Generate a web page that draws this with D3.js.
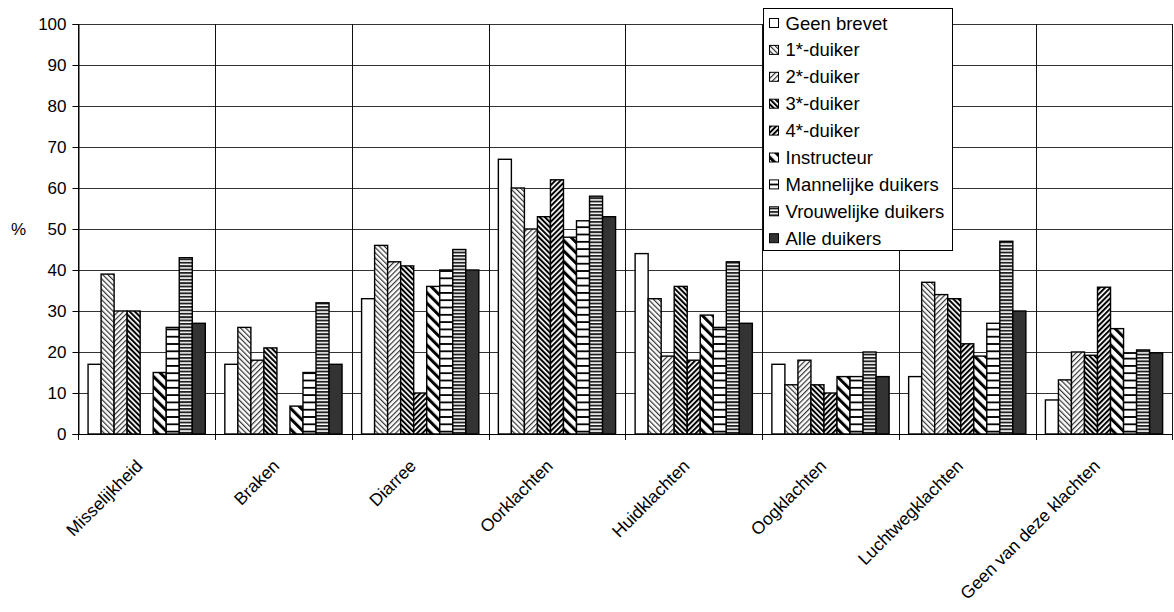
<!DOCTYPE html>
<html>
<head>
<meta charset="utf-8">
<script src="https://cdn.jsdelivr.net/npm/d3@7/dist/d3.min.js"></script>
<style>
  html, body { margin: 0; padding: 0; background: #fff; }
  svg { display: block; font-family: "Liberation Sans", Arial, sans-serif; }
</style>
</head>
<body>
<svg id="chart" width="1174" height="612"></svg>
<script>
// Complaint categories (x axis)
const categories = ["Misselijkheid", "Braken", "Diarree", "Oorklachten", "Huidklachten",
                    "Oogklachten", "Luchtwegklachten", "Geen van deze klachten"];

// Diver groups (legend order)
const seriesNames = ["Geen brevet", "1*-duiker", "2*-duiker", "3*-duiker", "4*-duiker",
                     "Instructeur", "Mannelijke duikers", "Vrouwelijke duikers", "Alle duikers"];

// Percentages per group, one value per category (null = no bar)
const geenBrevet  = [17, 17, 33, 67, 44, 17, 14, 8.3];
const ster1       = [39, 26, 46, 60, 33, 12, 37, 13.2];
const ster2       = [30, 18, 42, 50, 19, 18, 34, 20];
const ster3       = [30, 21, 41, 53, 36, 12, 33, 19.2];
const ster4       = [null, null, 10, 62, 18, 10, 22, 35.8];
const instructeur = [15, 6.8, 36, 48, 29, 14, 19, 25.7];
const mannelijk   = [26, 15, 40, 52, 26, 14, 27, 19.7];
const vrouwelijk  = [43, 32, 45, 58, 42, 20, 47, 20.5];
const alle        = [27, 17, 40, 53, 27, 14, 30, 19.8];

const yTicks = [0, 10, 20, 30, 40, 50, 60, 70, 80, 90, 100];
const yLabel = "%";

const seriesValues = [geenBrevet, ster1, ster2, ster3, ster4, instructeur, mannelijk, vrouwelijk, alle];

const svg = d3.select("#chart");
const plot = { left: 78.3, right: 1172.4, top: 24, bottom: 434 };

// ---- fill patterns ----
const defs = svg.append("defs");
function diagPattern(id, dir, size, thick, color) {
  const p = defs.append("pattern").attr("id", id)
    .attr("patternUnits", "userSpaceOnUse")
    .attr("width", size).attr("height", size)
    .attr("patternTransform", `rotate(${dir === "down" ? -45 : 45})`);
  p.append("rect").attr("width", size).attr("height", size).attr("fill", "#fff");
  p.append("rect").attr("x", 0).attr("y", 0).attr("width", thick).attr("height", size).attr("fill", color);
}
function horizPattern(id, size, thick, color) {
  const p = defs.append("pattern").attr("id", id)
    .attr("patternUnits", "userSpaceOnUse")
    .attr("width", 10).attr("height", size);
  p.append("rect").attr("width", 10).attr("height", size).attr("fill", "#fff");
  p.append("rect").attr("x", 0).attr("y", 0).attr("width", 10).attr("height", thick).attr("fill", color);
}
diagPattern("p-s1", "down", 3.7, 1.2, "#333");
diagPattern("p-s2", "up", 3.7, 1.2, "#333");
diagPattern("p-s3", "down", 3.7, 2.0, "#000");
diagPattern("p-s4", "up", 3.7, 2.0, "#000");
diagPattern("p-ins", "down", 7.4, 3.0, "#000");
horizPattern("p-man", 7.3, 1.8, "#000");
horizPattern("p-vro", 3.4, 1.9, "#222");

const fills = ["#fff", "url(#p-s1)", "url(#p-s2)", "url(#p-s3)", "url(#p-s4)",
               "url(#p-ins)", "url(#p-man)", "url(#p-vro)", "#333"];

// ---- scales ----
const x0 = d3.scaleBand().domain(categories).range([plot.left, plot.right]).padding(0);
const barW = x0.bandwidth() / 10.5;
const x1 = d3.scaleBand().domain(seriesNames)
  .range([0.75 * barW, 0.75 * barW + 9 * barW]).padding(0);
const y = d3.scaleLinear().domain([0, 100]).range([plot.bottom, plot.top]);

// ---- gridlines ----
svg.append("g").selectAll("line").data(yTicks).join("line")
  .attr("x1", plot.left).attr("x2", plot.right)
  .attr("y1", d => Math.round(y(d)) + 0.5).attr("y2", d => Math.round(y(d)) + 0.5)
  .attr("stroke", "#333").attr("stroke-width", 1);

const bounds = categories.map(c => x0(c)).concat([plot.right]);
svg.append("g").selectAll("line").data(bounds).join("line")
  .attr("x1", d => Math.round(d) + 0.5).attr("x2", d => Math.round(d) + 0.5)
  .attr("y1", plot.top).attr("y2", plot.bottom + 6)
  .attr("stroke", "#111").attr("stroke-width", 1);

// ---- bars ----
const groups = svg.append("g").selectAll("g").data(categories).join("g")
  .attr("transform", c => `translate(${x0(c)},0)`);
groups.selectAll("rect")
  .data((c, ci) => seriesNames.map((s, si) => ({ s, si, v: seriesValues[si][ci] })).filter(d => d.v != null))
  .join("rect")
  .attr("x", d => x1(d.s))
  .attr("width", x1.bandwidth())
  .attr("y", d => y(d.v))
  .attr("height", d => y(0) - y(d.v))
  .attr("fill", d => fills[d.si])
  .attr("stroke", "#000").attr("stroke-width", 1.4);

// ---- axes ----
const yAxis = d3.axisLeft(y).tickValues(yTicks).tickSize(6).tickPadding(6);
const gy = svg.append("g").attr("transform", `translate(${Math.round(plot.left) + 0.5},0)`).call(yAxis);
gy.select(".domain").attr("stroke", "#000");
gy.selectAll(".tick line").attr("stroke", "#000");
gy.selectAll(".tick text").attr("font-size", 17).attr("fill", "#000")
  .attr("font-family", "'Liberation Sans', Arial, sans-serif");

svg.append("line")
  .attr("x1", plot.left).attr("x2", plot.right)
  .attr("y1", Math.round(y(0)) + 0.5).attr("y2", Math.round(y(0)) + 0.5)
  .attr("stroke", "#000");

svg.append("text").attr("x", 11).attr("y", y(50)).attr("dy", "0.35em")
  .attr("font-size", 17).text(yLabel);

// category labels, rotated
svg.append("g").selectAll("text").data(categories).join("text")
  .attr("transform", c => `translate(${x0(c) + x0.bandwidth() / 2 - 3},467) rotate(-45)`)
  .attr("text-anchor", "end")
  .attr("font-size", 17.5)
  .text(c => c);

// ---- legend ----
const lg = svg.append("g");
lg.append("rect").attr("x", 763.5).attr("y", 8.5).attr("width", 189).attr("height", 242)
  .attr("fill", "#fff").attr("stroke", "#000");
const items = lg.selectAll("g.item").data(seriesNames).join("g").attr("class", "item")
  .attr("transform", (d, i) => `translate(0,${29.5 + i * 26.9})`);
items.append("rect").attr("x", 769.5).attr("y", -11).attr("width", 9).attr("height", 9)
  .attr("fill", (d, i) => fills[i]).attr("stroke", "#000").attr("stroke-width", 1);
items.append("text").attr("x", 785.5).attr("y", 0).attr("font-size", 18.5).text(d => d);
</script>
</body>
</html>
